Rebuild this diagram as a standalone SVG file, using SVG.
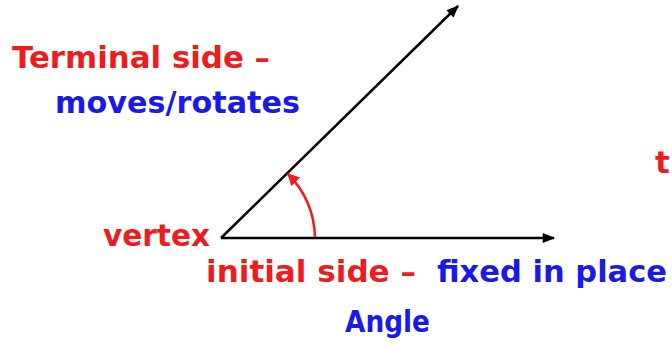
<svg xmlns="http://www.w3.org/2000/svg" width="672" height="350" viewBox="0 0 672 350">
<defs>
<style>
.t{font-family:"DejaVu Sans","Liberation Sans",sans-serif;font-weight:bold;font-size:31px}
.r{fill:#ee1c1c}
.b{fill:#1a1ae6}
.ray{stroke:#000;stroke-width:2.5;fill:none}
</style>
<marker id="ah" viewBox="0 0 10 10" refX="9" refY="5" markerWidth="7" markerHeight="5" markerUnits="strokeWidth" orient="auto">
<path d="M0,1 L10,5 L0,9 Z" fill="#000"/>
</marker>
<marker id="rah" viewBox="0 0 10 10" refX="9" refY="5" markerWidth="5" markerHeight="5" markerUnits="strokeWidth" orient="auto">
<path d="M0,0 L10,5 L0,10 Z" fill="#ee1c1c"/>
</marker>
</defs>
<rect width="672" height="350" fill="#fff"/>
<g id="connectors">
<line class="ray" x1="221" y1="238" x2="554" y2="238" marker-end="url(#ah)"/>
<line class="ray" x1="221" y1="238" x2="458" y2="6" marker-end="url(#ah)"/>
<path d="M315,237 A94,94 0 0 0 288,174" stroke="#ee1c1c" stroke-width="2.5" fill="none" marker-end="url(#rah)"/>
</g>
<g id="terminal-label">
<text class="t r" x="12" y="68" textLength="258" lengthAdjust="spacingAndGlyphs">Terminal side –</text>
<text class="t b" x="55" y="113" textLength="245" lengthAdjust="spacingAndGlyphs">moves/rotates</text>
</g>
<g id="vertex-label">
<text class="t r" x="103" y="246" textLength="107" lengthAdjust="spacingAndGlyphs">vertex</text>
</g>
<g id="initial-label">
<text class="t r" x="206" y="282" textLength="210" lengthAdjust="spacingAndGlyphs">initial side –</text>
<text class="t b" x="437" y="282" textLength="230" lengthAdjust="spacingAndGlyphs">fixed in place</text>
</g>
<g id="angle-label">
<text class="t b" x="345" y="332" textLength="85" lengthAdjust="spacingAndGlyphs">Angle</text>
</g>
<g id="stray-t">
<text class="t r" x="655" y="173">t</text>
</g>
</svg>
